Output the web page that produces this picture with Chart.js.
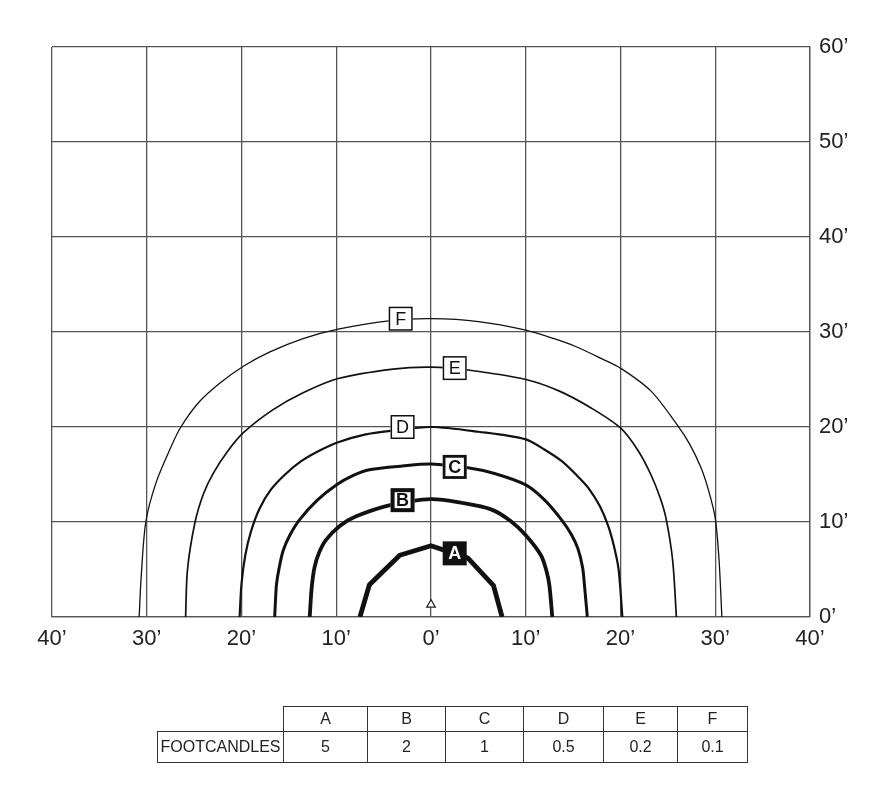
<!DOCTYPE html>
<html>
<head>
<meta charset="utf-8">
<script src="https://cdn.jsdelivr.net/npm/chart.js@4/dist/chart.umd.min.js"></script>
<style>
  body { margin: 0; background: #fff; }
  #wrap { position: relative; width: 895px; height: 794px; }
  #fc { position: absolute; left: 157px; top: 706px; border-collapse: collapse; table-layout: fixed;
        font-family: "Liberation Sans", Arial, sans-serif; font-size: 16px; color: #222; }
  #fc td { border: 1.5px solid #333; padding: 0; text-align: center; white-space: nowrap; overflow: hidden; }
  #fc tr#fc-head td { height: 24px; }
  #fc tr#fc-vals td { height: 30px; }
  #fc td.blank { border: none; }
</style>
</head>
<body>
<div id="wrap">
  <canvas id="chart"></canvas>
  <table id="fc">
    <tr id="fc-head"><td class="blank" style="width:125px"></td></tr>
    <tr id="fc-vals"></tr>
  </table>
</div>
<script>
// isofootcandle-Kurven, Werte in Fuß [x, y]
const CURVE_F = [[-30.8,0],[-30.6,4],[-30.1,10],[-29.0,14.2],[-27.4,18],[-26.4,20],[-24.5,22.6],[-22.3,24.6],[-19.8,26.4],[-17,27.9],[-13.5,29.3],[-9.8,30.3],[-4.2,31.2],[0,31.4],[5,31.1],[10,30.2],[13,29.3],[15.2,28.5],[18,27.2],[20,26.2],[23.2,23.8],[26,20.2],[27.3,18.2],[28.5,15.7],[29.3,13.3],[30,10.4],[30.4,6],[30.7,0]];
const CURVE_E = [[-25.9,0],[-25.7,5],[-24.9,10],[-24,13],[-23,15.1],[-21.5,17.4],[-19.8,19.4],[-16.7,21.8],[-13.5,23.6],[-9.8,25.1],[-4,26.1],[0,26.3],[3.9,26.0],[10,25.0],[13.5,23.8],[16.9,22.0],[20,19.9],[21.8,17.6],[23.2,15.0],[24.2,12.5],[24.8,10.4],[25.5,6],[25.9,0]];
const CURVE_D = [[-20.2,0],[-20.0,3.5],[-19.6,6.5],[-19.0,9],[-18.1,11.4],[-16.9,13.4],[-15.4,15],[-13.7,16.4],[-11.8,17.5],[-9.8,18.4],[-7,19.2],[-4.2,19.6],[0,20.0],[5,19.5],[10,18.7],[12,17.6],[13.8,16.4],[15.3,15],[16.6,13.6],[17.8,11.7],[18.7,9.6],[19.3,7.5],[19.8,5],[20.2,0]];
const CURVE_C = [[-16.5,0],[-16.4,2],[-16.3,3.5],[-16,5.3],[-15.6,7],[-14.9,8.6],[-13.9,10.2],[-12,12.3],[-10,13.9],[-8.2,14.9],[-6.5,15.5],[-3,15.9],[0,16.1],[3.9,15.7],[6.7,15.1],[10,13.9],[12,12.3],[13.8,10.2],[14.8,8.7],[15.5,7.2],[16,5.2],[16.2,3.3],[16.5,0]];
const CURVE_B = [[-12.8,0],[-12.6,3],[-12.3,5.2],[-11.8,6.8],[-11.1,8.1],[-9.6,9.6],[-7.9,10.6],[-4.2,11.8],[0,12.4],[3.3,12.0],[6.4,11.3],[8.4,10.1],[10,8.6],[11.6,6.5],[12.2,4.8],[12.5,3.3],[12.8,0]];
const CURVE_A = [[-7.5,0],[-6.5,3.4],[-3.3,6.5],[0,7.5],[3.9,6.2],[6.6,3.3],[7.5,0]];

const CURVE_NAMES = ['A', 'B', 'C', 'D', 'E', 'F'];
const FOOTCANDLES = ['5', '2', '1', '0.5', '0.2', '0.1'];
const CURVES = [CURVE_A, CURVE_B, CURVE_C, CURVE_D, CURVE_E, CURVE_F];
const LINE_WIDTHS = [4.8, 3.8, 3, 2.2, 1.7, 1.3];

// Position der Buchstaben-Kästchen (Fuß)
const LABEL_X = [2.5, -3.0, 2.5, -3.0, 2.5, -3.2];
const LABEL_Y = [6.7, 12.3, 15.8, 20.0, 26.2, 31.4];

const X_MIN = -40, X_MAX = 40, Y_MIN = 0, Y_MAX = 60, STEP = 10;
const FONT = '"Liberation Sans", Arial, sans-serif';

// Tabelle unten
const head = document.getElementById('fc-head');
const vals = document.getElementById('fc-vals');
const COL_W = [83, 77, 77, 79, 73, 69];
vals.innerHTML = '<td style="width:125px">FOOTCANDLES</td>';
CURVE_NAMES.forEach((n, i) => {
  head.insertAdjacentHTML('beforeend', `<td style="width:${COL_W[i]}px">${n}</td>`);
  vals.insertAdjacentHTML('beforeend', `<td>${FOOTCANDLES[i]}</td>`);
});

const labelBoxes = {
  id: 'labelBoxes',
  afterDatasetsDraw(chart) {
    const { ctx, scales: { x, y } } = chart;
    ctx.save();
    ctx.textAlign = 'center';
    ctx.textBaseline = 'middle';
    CURVE_NAMES.forEach((n, i) => {
      const px = x.getPixelForValue(LABEL_X[i]);
      const py = y.getPixelForValue(LABEL_Y[i]);
      const s = 24;
      ctx.font = `18px ${FONT}`;
      if (n === 'A') {
        ctx.fillStyle = '#111';
        ctx.fillRect(px - s / 2, py - s / 2, s, s);
        ctx.fillStyle = '#fff';
        ctx.font = `bold 18px ${FONT}`;
        ctx.fillText(n, px, py + 1);
        return;
      }
      const bw = n === 'B' ? 4 : n === 'C' ? 2.8 : 1.5;
      ctx.fillStyle = '#fff';
      ctx.fillRect(px - s / 2, py - s / 2, s, s);
      ctx.lineWidth = bw;
      ctx.strokeStyle = '#111';
      ctx.strokeRect(px - s / 2 + bw / 2, py - s / 2 + bw / 2, s - bw, s - bw);
      ctx.fillStyle = '#111';
      if (n === 'B' || n === 'C') ctx.font = `bold 18px ${FONT}`;
      ctx.fillText(n, px, py + 1);
    });
    ctx.restore();
  },
};

const datasets = CURVES.map((c, i) => ({
  label: CURVE_NAMES[i],
  data: c.map(([x, y]) => ({ x, y })),
  showLine: true,
  borderColor: '#111',
  borderWidth: LINE_WIDTHS[i],
  pointRadius: 0,
  tension: i === 0 ? 0 : 0.3,
  borderJoinStyle: 'round',
}));
// kleiner Pfeil am Leuchtenstandort
datasets.push({
  label: 'fixture',
  data: [{ x: 0, y: 1.3 }],
  pointStyle: 'triangle',
  pointRadius: 5,
  backgroundColor: '#fff',
  borderColor: '#222',
  borderWidth: 1.2,
});

new Chart(document.getElementById('chart'), {
  type: 'scatter',
  data: { datasets },
  options: {
    responsive: true,
    maintainAspectRatio: false,
    animation: false,
    layout: { padding: { left: 52, top: 47, right: 0, bottom: 0 } },
    plugins: { legend: { display: false }, tooltip: { enabled: false } },
    scales: {
      x: {
        type: 'linear',
        min: X_MIN, max: X_MAX,
        afterFit: s => { s.height = 177; },
        ticks: {
          stepSize: STEP, autoSkip: false, padding: 9, color: '#222',
          font: { family: FONT, size: 22 },
          callback: v => Math.abs(v) + '’',
        },
        grid: { color: '#555', lineWidth: 1.3, drawTicks: false },
        border: { color: '#555', width: 1.3 },
      },
      y: {
        type: 'linear',
        position: 'right',
        min: Y_MIN, max: Y_MAX,
        afterFit: s => { s.width = 85; },
        ticks: {
          stepSize: STEP, padding: 9, color: '#222',
          font: { family: FONT, size: 22 },
          callback: v => v + '’',
        },
        grid: { color: '#555', lineWidth: 1.3, drawTicks: false },
        border: { color: '#555', width: 1.3 },
      },
    },
  },
  plugins: [labelBoxes],
});
</script>
</body>
</html>
